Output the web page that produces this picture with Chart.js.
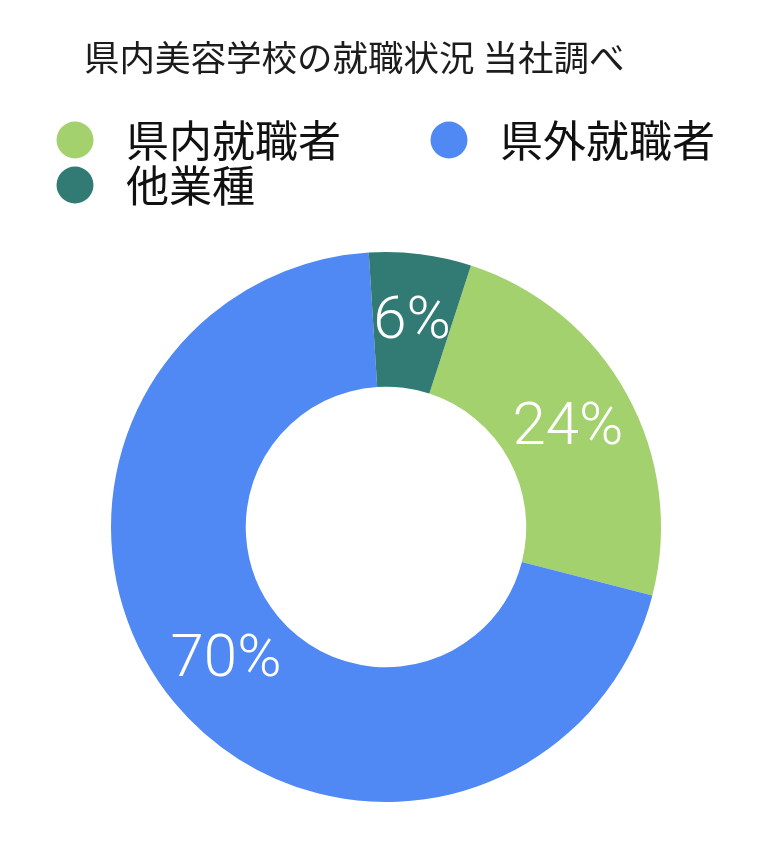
<!DOCTYPE html>
<html lang="ja">
<head>
<meta charset="utf-8">
<script src="https://cdn.jsdelivr.net/npm/chart.js@4"></script>
<style>
  html, body { margin: 0; padding: 0; background: #ffffff; }
  #wrap { width: 777px; height: 854px; }
</style>
</head>
<body>
<div id="wrap"><canvas id="c" width="777" height="854"></canvas></div>
<script>
// ---- data ----
const titleText = '県内美容学校の就職状況 当社調べ';
const categories = ['県内就職者', '県外就職者', '他業種'];
const shares = [24, 70, 6];
const sliceColors = ['#A3D16E', '#5088F4', '#327B74'];

// ---- custom legend in two columns ----
const gridLegend = {
  id: 'gridLegend',
  afterDraw(chart, args, opts) {
    const ctx = chart.ctx;
    const labels = chart.data.labels;
    const colors = chart.data.datasets[0].backgroundColor;
    ctx.save();
    ctx.font = opts.fontSize + 'px ' + opts.fontFamily;
    ctx.textAlign = 'left';
    ctx.textBaseline = 'middle';
    labels.forEach((lab, i) => {
      const col = i % opts.columns;
      const row = Math.floor(i / opts.columns);
      const cx = opts.colX[col];
      const cy = opts.rowY[row];
      ctx.fillStyle = colors[i];
      ctx.beginPath();
      ctx.arc(cx, cy, opts.radius, 0, Math.PI * 2);
      ctx.fill();
      ctx.fillStyle = opts.color;
      ctx.fillText(lab, cx + opts.textGap, cy + opts.textDy);
    });
    ctx.restore();
  }
};

// ---- percentage labels inside slices ----
const sliceLabels = {
  id: 'sliceLabels',
  afterDatasetsDraw(chart, args, opts) {
    const ctx = chart.ctx;
    const ds = chart.data.datasets[0];
    const total = ds.data.reduce((a, b) => a + b, 0);
    const meta = chart.getDatasetMeta(0);
    ctx.save();
    ctx.font = opts.fontWeight + ' ' + opts.fontSize + 'px ' + opts.fontFamily;
    ctx.fillStyle = opts.color;
    ctx.textAlign = 'center';
    ctx.textBaseline = 'middle';
    meta.data.forEach((arc, i) => {
      const p = arc.getCenterPoint();
      const txt = Math.round(ds.data[i] / total * 100) + '%';
      ctx.fillText(txt, p.x, p.y + opts.dy);
    });
    ctx.restore();
  }
};

new Chart(document.getElementById('c'), {
  type: 'doughnut',
  data: {
    labels: categories,
    datasets: [{
      data: shares,
      backgroundColor: sliceColors,
      borderWidth: 0,
      hoverOffset: 0
    }]
  },
  options: {
    responsive: false,
    animation: false,
    rotation: 18,
    cutout: '51%',
    layout: { padding: { left: 84, right: 89, top: 0, bottom: 52 } },
    plugins: {
      legend: { display: false },
      tooltip: { enabled: false },
      title: {
        display: true,
        text: titleText,
        align: 'start',
        color: '#1c1c1c',
        font: { family: '"Noto Sans CJK JP", sans-serif', size: 35.5, weight: 'normal', lineHeight: 1.2 },
        padding: { top: 36, bottom: 173.4 }
      },
      gridLegend: {
        columns: 2,
        colX: [75, 449],
        rowY: [140, 185],
        radius: 18.5,
        textGap: 51,
        textDy: 1,
        fontSize: 43,
        fontFamily: '"Noto Sans CJK JP", sans-serif',
        color: '#111111'
      },
      sliceLabels: {
        fontSize: 60,
        fontWeight: '300',
        fontFamily: 'Roboto, "Noto Sans", sans-serif',
        color: '#ffffff',
        dy: 2
      }
    }
  },
  plugins: [gridLegend, sliceLabels]
});
</script>
</body>
</html>
